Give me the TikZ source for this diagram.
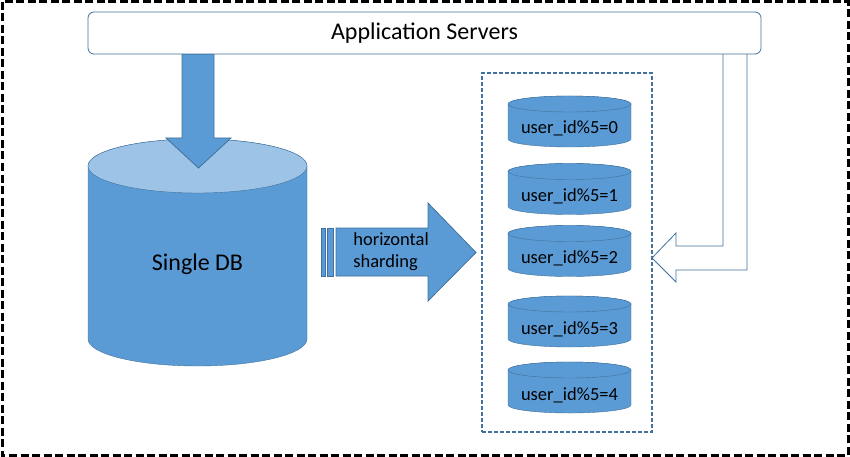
\documentclass[tikz,border=0pt]{standalone}
\usepackage{fontspec}
\setmainfont{Carlito}
\usetikzlibrary{positioning,backgrounds}
\definecolor{dbfill}{HTML}{5B9BD5}
\definecolor{dbline}{HTML}{41719C}
\definecolor{dbtop}{HTML}{9DC3E6}

\begin{document}
\begin{tikzpicture}[x=1pt,y=-1pt,line width=0.8pt,outer sep=0pt,
  big db/.style={minimum width=219pt,minimum height=173pt,inner sep=0pt,text height=36pt,text depth=0pt,font=\fontsize{24}{28}\selectfont},
  shard db/.style={minimum width=123pt,minimum height=35pt,inner sep=0pt,text height=25pt,text depth=0pt,font=\fontsize{18.5}{22}\selectfont},
  block/.style={draw=dbline,fill=dbfill,line join=miter},
  hollow/.style={draw=dbline,fill=white,line join=miter}]
            \useasboundingbox (0,0) rectangle (850,457);
            \draw[line width=3pt,dash pattern=on 8pt off 3.5pt] (2,2) rectangle (848,455);

            \node[big db] (db) at (197.5,252.5) {Single DB};

            \node[draw=dbline,line width=1.2pt,dash pattern=on 4pt off 2pt,minimum width=170pt,minimum height=359pt] (shards) at (567,252.5) {};
            \node[shard db] (s0) at (569.5,121.5) {user\_id\%5=0};
            \node[shard db] (s1) at (569.5,189) {user\_id\%5=1};
            \node[shard db] (s2) at (569.5,251) {user\_id\%5=2};
            \node[shard db] (s3) at (569.5,321.5) {user\_id\%5=3};
            \node[shard db] (s4) at (569.5,387.5) {user\_id\%5=4};

            % cylinders behind the labels
            \begin{scope}[on background layer]
                \filldraw[block] (db.north west) -- (db.south west) arc[start angle=180,end angle=360,x radius=109.5pt,y radius=27pt] -- (db.north east) arc[start angle=0,end angle=180,x radius=109.5pt,y radius=27pt] -- cycle;
                \filldraw[block,fill=dbtop] (db.north) ellipse[x radius=109.5pt,y radius=27pt];
                \foreach \s in {s0,s1,s2,s3,s4}{
                    \filldraw[block] (\s.north west) -- (\s.south west) arc[start angle=180,end angle=360,x radius=61.5pt,y radius=8pt] -- (\s.north east) arc[start angle=0,end angle=180,x radius=61.5pt,y radius=8pt] -- cycle;
                    \filldraw[block] (\s.north) ellipse[x radius=61.5pt,y radius=8pt];
                }
            \end{scope}

            % app servers -> single db
            \draw[block] (182,54) -- (182,138) -- (166,138) -- (198.5,168) -- (231,138) -- (214,138) -- (214,54) -- cycle;
            % app servers -> shards
            \draw[hollow] (723,54) -- (723,246) -- (676,246) -- (676,233) -- (shards.east |- 0,258) -- (676,282) -- (676,270) -- (747,270) -- (747,54);

            \node[draw=dbline,fill=white,rounded corners=6pt,minimum width=673pt,minimum height=42pt,font=\fontsize{24}{28}\selectfont] (servers) at (424.5,33) {Application Servers};

            % single db -> shards
            \draw[block] (321,228) rectangle (325,276);
            \draw[block] (327,228) rectangle (333,276);
            \draw[block] ([xshift=-6pt]shards.west) -- (428,203) -- (428,228) -- (336,228) -- (336,276) -- (428,276) -- (428,301) -- cycle;
            \node[anchor=west,align=left,font=\fontsize{18.5}{22}\selectfont] (label) at (350,252) {horizontal\\sharding};
        \end{tikzpicture}
\end{document}
